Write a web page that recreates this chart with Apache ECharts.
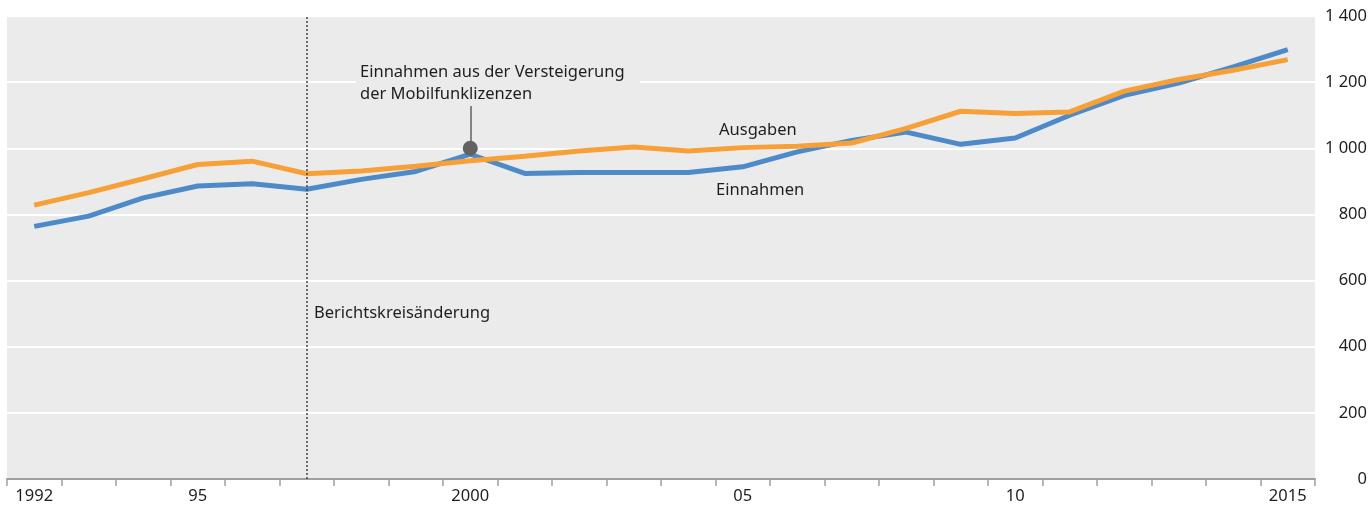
<!DOCTYPE html>
<html>
<head>
<meta charset="utf-8">
<script src="https://cdn.jsdelivr.net/npm/echarts@6/dist/echarts.min.js"></script>
<style>
html,body{margin:0;padding:0;background:#fff;}
#chart{width:1372px;height:507px;}
</style>
</head>
<body>
<div id="chart"></div>
<script>
const years = ['1992','1993','1994','1995','1996','1997','1998','1999','2000','2001','2002','2003','2004','2005','2006','2007','2008','2009','2010','2011','2012','2013','2014','2015'];
const tickLabels = {'1992':'1992','1995':'95','2000':'2000','2005':'05','2010':'10','2015':'2015'};
const einnahmen = [764,795,850,886,893,876,906,930,982,924,927,927,927,944,989,1024,1049,1012,1031,1100,1160,1197,1246,1298];
const ausgaben  = [828,866,908,951,961,923,931,946,962,976,992,1004,992,1002,1006,1016,1060,1112,1105,1110,1173,1208,1236,1268];
const auctionPoint = ['2000', 1000];
const auctionLeaderTop = 1136;
const breakYear = '1997';

const FONT = '"Noto Sans", sans-serif';
const FS = 16.5;
const chart = echarts.init(document.getElementById('chart'), null, {renderer:'canvas'});
chart.setOption({
  animation:false,
  backgroundColor:'#ffffff',
  grid:{left:7,right:57,top:16,bottom:28,show:true,backgroundColor:'#ebebeb',borderWidth:0},
  xAxis:{
    type:'category',data:years,boundaryGap:true,
    axisLine:{show:true,lineStyle:{color:'#a0a0a0',width:2}},
    axisTick:{show:true,length:7,lineStyle:{color:'#a0a0a0',width:1.5}},
    axisLabel:{interval:0,margin:9,color:'#1e1e1e',fontFamily:FONT,fontSize:FS,
      formatter:v=>tickLabels[v]||''},
    splitLine:{show:false}
  },
  yAxis:{
    type:'value',position:'right',min:0,max:1400,interval:200,
    axisLine:{show:false},axisTick:{show:false},
    axisLabel:{align:'right',margin:52,color:'#1e1e1e',fontFamily:FONT,fontSize:FS,
      formatter:v=>String(v).replace(/\B(?=(\d{3})+(?!\d))/g,' ')},
    splitLine:{show:true,lineStyle:{color:'#ffffff',width:2}}
  },
  series:[
    {name:'Einnahmen',type:'line',data:einnahmen,symbol:'none',z:3,
      lineStyle:{color:'#4e8ac8',width:5},
      markLine:{silent:true,symbol:'none',label:{show:false},
        lineStyle:{color:'#444',type:[2,2],width:1.5},
        data:[{xAxis:breakYear}]}},
    {name:'Ausgaben',type:'line',data:ausgaben,symbol:'none',z:4,
      lineStyle:{color:'#f7a038',width:5}},
    {name:'Auktion',type:'scatter',data:[auctionPoint],symbol:'circle',symbolSize:15,z:6,
      itemStyle:{color:'#626262',opacity:1},
      markLine:{silent:true,symbol:'none',label:{show:false},
        lineStyle:{color:'#626262',type:'solid',width:1.5},
        data:[[{coord:[auctionPoint[0],auctionPoint[1]]},{coord:[auctionPoint[0],auctionLeaderTop]}]]}}
  ],
  graphic:[
    {type:'rect',left:356,top:58,shape:{width:284,height:48},style:{fill:'#ebebeb'},z:10},
    {type:'text',left:360,top:61,z:11,style:{text:'Einnahmen aus der Versteigerung\nder Mobilfunklizenzen',
      font:FS+'px '+FONT,fill:'#1e1e1e',lineHeight:22}},
    {type:'text',left:719,top:122,z:11,style:{text:'Ausgaben',font:FS+'px '+FONT,fill:'#1e1e1e'}},
    {type:'text',left:716,top:182,z:11,style:{text:'Einnahmen',font:FS+'px '+FONT,fill:'#1e1e1e'}},
    {type:'text',left:314,top:305,z:11,style:{text:'Berichtskreisänderung',font:FS+'px '+FONT,fill:'#1e1e1e'}}
  ]
});
</script>
</body>
</html>
